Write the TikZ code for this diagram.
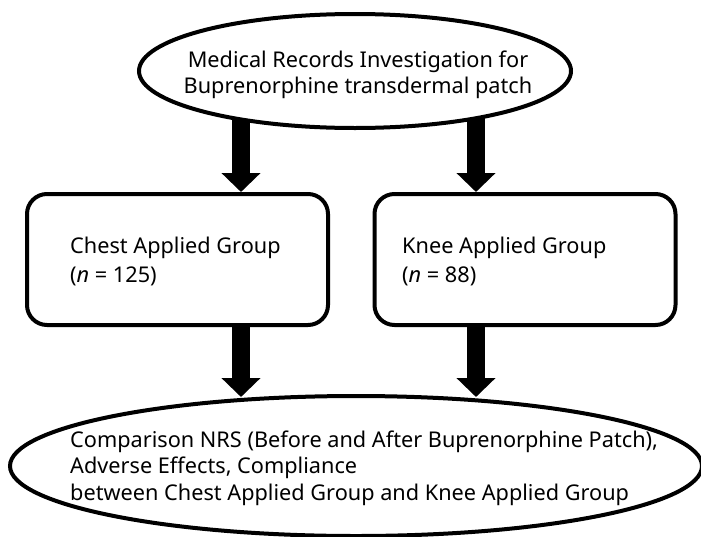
\documentclass[tikz,border=0pt]{standalone}
\usepackage{fontspec}
\setmainfont{Noto Sans}
\usetikzlibrary{shapes.geometric,arrows.meta,backgrounds,calc}
\begin{document}
\begin{tikzpicture}[x=1pt,y=-1pt,
  shapeline/.style={draw=black,line width=4pt,fill=white},
  oval/.style={shapeline,ellipse,inner sep=0pt},
  groupbox/.style={shapeline,rectangle,rounded corners=20pt,inner sep=0pt,minimum width=301pt,minimum height=131pt},
  txt/.style={font=\fontsize{21.7}{26}\selectfont,inner sep=0pt},
  bigarrow/.style={line width=18pt,-{Triangle[width=38pt,length=19pt]}}]
\useasboundingbox (0,0) rectangle (701,536);
% shapes
\node[oval,minimum width=432pt,minimum height=114pt] (top) at (355,71) {};
\node[groupbox] (chest) at (177.5,259.5) {};
\node[groupbox] (knee) at (525,259.5) {};
\node[oval,minimum width=692pt,minimum height=140pt] (bot) at (356,466) {};
% texts (base anchor = last line)
\node[txt,anchor=base,align=center] (toptxt) at (358,93) {Medical Records Investigation for\\Buprenorphine transdermal patch};
\node[txt,font=\fontsize{21.7}{29}\selectfont,anchor=base west,align=left] (chesttxt) at (70,282) {Chest Applied Group\\(\textit{n} = 125)};
\node[txt,font=\fontsize{21.7}{29}\selectfont,anchor=base west,align=left] (kneetxt) at (402,282) {Knee Applied Group\\(\textit{n} = 88)};
\node[txt,font=\fontsize{21.7}{26.5}\selectfont,anchor=base west,align=left] (bottxt) at (70,500) {Comparison NRS (Before and After Buprenorphine Patch),\\Adverse Effects, Compliance\\between Chest Applied Group and Knee Applied Group};
% arrows
\coordinate (l1) at (241,100);
\coordinate (r1) at (476,100);
\begin{scope}[on background layer]
\draw[bigarrow] (l1) -- (l1 |- chest.north);
\draw[bigarrow] (r1) -- (r1 |- knee.north);
\draw[bigarrow] (l1 |- chest.south) -- ($(l1 |- bot.north)+(0,3)$);
\draw[bigarrow] (r1 |- knee.south) -- ($(r1 |- bot.north)+(0,3)$);
\end{scope}
\end{tikzpicture}
\end{document}
